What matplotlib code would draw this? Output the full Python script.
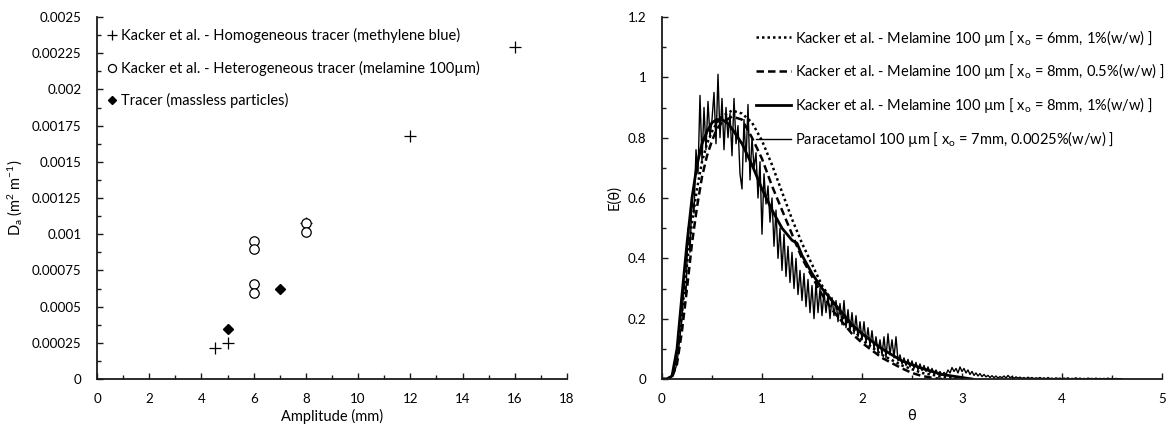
import numpy as np
import matplotlib
matplotlib.use("Agg")
import matplotlib.pyplot as plt
from matplotlib.ticker import MultipleLocator, FuncFormatter

plt.rcParams["font.family"] = ["Lato", "DejaVu Sans"]
plt.rcParams["mathtext.fontset"] = "custom"
plt.rcParams["mathtext.rm"] = "Lato"
plt.rcParams["mathtext.it"] = "Lato:italic"

TICK_FS = 9.6
TEXT_FS = 10.5

# --- left panel: axial dispersion vs amplitude ---
homog_amp = [4.5, 5, 8, 12, 16]
homog_da = [0.000214, 0.000247, 0.001076, 0.00168, 0.00229]
heterog_amp = [6, 6, 6, 6, 8, 8]
heterog_da = [0.000956, 0.000896, 0.000657, 0.000594, 0.001076, 0.001014]
tracer_amp = [5, 7]
tracer_da = [0.000346, 0.000622]

# --- right panel: residence time distributions ---
theta_6mm_1 = [0, 0.05, 0.1, 0.15, 0.2, 0.25, 0.3, 0.35, 0.4, 0.45, 0.5, 0.55, 0.6, 0.7, 0.8,
               0.9, 1.0, 1.1, 1.2, 1.3, 1.4, 1.5, 1.6, 1.7, 1.8, 1.9, 2.0, 2.2, 2.4, 2.6, 2.8, 3.0]
e_6mm_1 = [0, 0, 0.01, 0.08, 0.22, 0.38, 0.52, 0.63, 0.72, 0.78, 0.82, 0.85, 0.87, 0.89, 0.88,
           0.85, 0.79, 0.71, 0.62, 0.53, 0.45, 0.38, 0.31, 0.26, 0.21, 0.17, 0.13, 0.08, 0.045, 0.02, 0.008, 0.0]

theta_8mm_05 = [0, 0.05, 0.1, 0.15, 0.2, 0.25, 0.3, 0.35, 0.4, 0.45, 0.5, 0.55, 0.6, 0.7, 0.8, 0.9,
                1.0, 1.1, 1.2, 1.3, 1.4, 1.5, 1.6, 1.7, 1.8, 1.9, 2.0, 2.2, 2.4, 2.5, 2.6, 2.7, 2.8]
e_8mm_05 = [0, 0, 0.005, 0.05, 0.16, 0.3, 0.45, 0.57, 0.67, 0.74, 0.79, 0.83, 0.85, 0.87, 0.86, 0.8,
            0.73, 0.64, 0.56, 0.48, 0.4, 0.34, 0.28, 0.23, 0.19, 0.15, 0.12, 0.07, 0.035, 0.02, 0.01, 0.004, 0.0]

theta_8mm_1 = [0, 0.05, 0.1, 0.15, 0.2, 0.25, 0.3, 0.35, 0.4, 0.45, 0.5, 0.55, 0.6, 0.65, 0.7, 0.8,
               0.9, 1.0, 1.1, 1.2, 1.3, 1.35, 1.4, 1.5, 1.6, 1.7, 1.8, 1.9, 2.0, 2.2, 2.4, 2.6, 2.8, 3.0, 3.1]
e_8mm_1 = [0, 0, 0.01, 0.1, 0.28, 0.45, 0.6, 0.71, 0.78, 0.82, 0.85, 0.86, 0.86, 0.85, 0.83, 0.78,
           0.71, 0.63, 0.56, 0.5, 0.46, 0.45, 0.41, 0.35, 0.3, 0.26, 0.22, 0.18, 0.15, 0.1, 0.06, 0.035, 0.015, 0.005, 0.0]

# paracetamol, sampled every 0.02 in theta from 0 to 4.6
e_para = [
    0, 0, 0, 0, 0.002, 0.008, 0.02, 0.04, 0.08, 0.14,
    0.20, 0.32, 0.28, 0.50, 0.42, 0.60, 0.55, 0.76, 0.68, 0.94,
    0.72, 0.90, 0.76, 0.92, 0.80, 0.86, 0.95, 0.78, 1.01, 0.80,
    0.93, 0.76, 0.90, 0.80, 0.88, 0.74, 0.93, 0.78, 0.84, 0.68,
    0.63, 0.86, 0.72, 0.91, 0.66, 0.80, 0.70, 0.75, 0.60, 0.72,
    0.48, 0.68, 0.58, 0.64, 0.52, 0.60, 0.44, 0.56, 0.40, 0.50,
    0.36, 0.48, 0.34, 0.44, 0.32, 0.42, 0.30, 0.40, 0.28, 0.36,
    0.26, 0.35, 0.24, 0.33, 0.22, 0.31, 0.20, 0.32, 0.22, 0.30,
    0.21, 0.29, 0.22, 0.28, 0.20, 0.27, 0.21, 0.26, 0.19, 0.25,
    0.18, 0.26, 0.17, 0.23, 0.16, 0.22, 0.15, 0.21, 0.14, 0.19,
    0.13, 0.19, 0.12, 0.17, 0.11, 0.16, 0.10, 0.14, 0.09, 0.13,
    0.08, 0.14, 0.07, 0.15, 0.08, 0.13, 0.07, 0.14, 0.06, 0.08,
    0.05, 0.07, 0.045, 0.065, 0.04, 0.06, 0.035, 0.055, 0.03, 0.05,
    0.028, 0.045, 0.025, 0.04, 0.02, 0.035, 0.018, 0.03, 0.015, 0.025,
    0.012, 0.022, 0.015, 0.03, 0.02, 0.038, 0.025, 0.035, 0.02, 0.04,
    0.025, 0.035, 0.02, 0.03, 0.015, 0.025, 0.012, 0.02, 0.01, 0.018,
    0.008, 0.015, 0.007, 0.012, 0.005, 0.011, 0.004, 0.01, 0.003, 0.008,
    0.004, 0.01, 0.003, 0.012, 0.004, 0.008, 0.002, 0.007, 0.003, 0.006,
    0.002, 0.005, 0.001, 0.006, 0.002, 0.005, 0.001, 0.004, 0.002, 0.005,
    0.001, 0.004, 0.0, 0.005, 0.001, 0.003, 0.0, 0.004, 0.001, 0.003,
    0.0, 0.003, 0.001, 0.004, 0.0, 0.002, 0.001, 0.004, 0.0, 0.003,
    0.0, 0.002, 0.0, 0.003, 0.001, 0.002, 0.0, 0.003, 0.0, 0.002,
    0.0, 0.002, 0.0, 0.003, 0.0, 0.002, 0.0, 0.002, 0.0, 0.001,
    0.0,
]
theta_para = np.linspace(0, 0.02 * (len(e_para) - 1), len(e_para))


def style_axes(ax):
    for side in ("top", "right"):
        ax.spines[side].set_visible(False)
    for side in ("left", "bottom"):
        ax.spines[side].set_linewidth(1.3)
        ax.spines[side].set_color("#1a1a1a")
    ax.tick_params(which="major", direction="in", length=4, width=1, color="#1a1a1a",
                   labelsize=TICK_FS)
    ax.tick_params(which="minor", direction="in", length=3, width=1, color="#1a1a1a")
    ax.tick_params(axis="x", which="major", pad=10)
    ax.tick_params(axis="y", which="major", pad=11)


def plain(v, pos):
    return f"{v:.5f}".rstrip("0").rstrip(".")


fig = plt.figure(figsize=(11.69, 4.32), dpi=100)
ax1 = fig.add_axes([97 / 1169, 53 / 432, 470 / 1169, 362 / 432])
ax2 = fig.add_axes([662 / 1169, 53 / 432, 500 / 1169, 362 / 432])

# left
ax1.plot(homog_amp, homog_da, linestyle="none", marker="+", markersize=8, mew=0.9, color="black",
         label="Kacker et al. - Homogeneous tracer (methylene blue)")
ax1.plot(heterog_amp, heterog_da, linestyle="none", marker="o", markersize=6.8, mew=0.9,
         mfc="white", mec="black", label="Kacker et al. - Heterogeneous tracer (melamine 100µm)")
ax1.plot(tracer_amp, tracer_da, linestyle="none", marker="D", markersize=5.2, color="black",
         label="Tracer (massless particles)")
ax1.set_xlim(0, 18)
ax1.set_ylim(0, 0.0025)
ax1.xaxis.set_major_locator(MultipleLocator(2))
ax1.xaxis.set_minor_locator(MultipleLocator(1))
ax1.yaxis.set_major_locator(MultipleLocator(0.00025))
ax1.yaxis.set_minor_locator(MultipleLocator(0.000125))
ax1.yaxis.set_major_formatter(FuncFormatter(plain))
ax1.set_xlabel("Amplitude (mm)", fontsize=TEXT_FS, labelpad=3)
ax1.set_ylabel("D$_\\mathrm{a}$ (m$^\\mathrm{2}$ m$^\\mathrm{-1}$)", fontsize=TEXT_FS, labelpad=5)
style_axes(ax1)
ax1.legend(loc="upper left", bbox_to_anchor=(0.010, 0.985), frameon=False, handlelength=0.6,
           handletextpad=0.3, labelspacing=1.19, borderaxespad=0, fontsize=TEXT_FS, markerscale=0.85)

# right
ax2.plot(theta_6mm_1, e_6mm_1, color="black", linestyle=(0, (1, 1.2)), linewidth=1.8,
         label="Kacker et al. - Melamine 100 µm [ x$_\\mathrm{o}$ = 6mm, 1%(w/w) ]")
ax2.plot(theta_8mm_05, e_8mm_05, color="black", linestyle=(0, (3, 1.6)), linewidth=1.8,
         label="Kacker et al. - Melamine 100 µm [ x$_\\mathrm{o}$ = 8mm, 0.5%(w/w) ]")
ax2.plot(theta_8mm_1, e_8mm_1, color="black", linestyle="-", linewidth=2.0,
         label="Kacker et al. - Melamine 100 µm [ x$_\\mathrm{o}$ = 8mm, 1%(w/w) ]")
ax2.plot(theta_para, e_para, color="black", linestyle="-", linewidth=1.0,
         label="Paracetamol 100 µm [ x$_\\mathrm{o}$ = 7mm, 0.0025%(w/w) ]")
ax2.set_xlim(0, 5)
ax2.set_ylim(0, 1.2)
ax2.xaxis.set_major_locator(MultipleLocator(1))
ax2.xaxis.set_minor_locator(MultipleLocator(0.5))
ax2.yaxis.set_major_locator(MultipleLocator(0.2))
ax2.yaxis.set_minor_locator(MultipleLocator(0.1))
ax2.yaxis.set_major_formatter(FuncFormatter(lambda v, p: f"{v:.1f}".rstrip("0").rstrip(".")))
ax2.set_xlabel("θ", fontsize=TEXT_FS, labelpad=3)
ax2.set_ylabel("E(θ)", fontsize=TEXT_FS, labelpad=5)
style_axes(ax2)
ax2.legend(loc="upper left", bbox_to_anchor=(0.176, 0.987), frameon=False, handlelength=2.4,
           handletextpad=0.27, labelspacing=0.94, borderaxespad=0, fontsize=TEXT_FS)

fig.savefig("out.png", dpi=100)
